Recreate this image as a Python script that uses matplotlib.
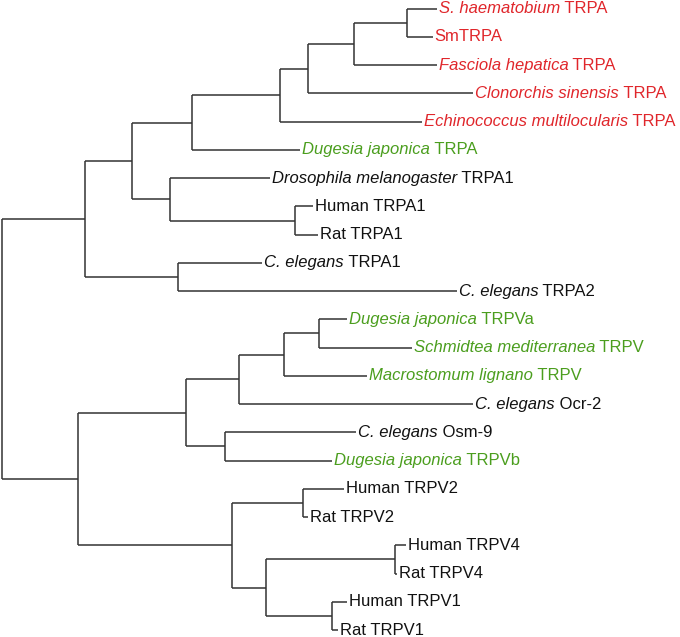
import matplotlib
matplotlib.use("Agg")
import matplotlib.pyplot as plt

# ---------------- data ----------------
leaf_italic = ["S. haematobium", "", "Fasciola hepatica", "Clonorchis sinensis",
               "Echinococcus multilocularis", "Dugesia japonica", "Drosophila melanogaster",
               "", "", "C. elegans", "C. elegans", "Dugesia japonica",
               "Schmidtea mediterranea", "Macrostomum lignano", "C. elegans", "C. elegans",
               "Dugesia japonica", "", "", "", "", "", ""]
leaf_regular = ["TRPA", "SmTRPA", "TRPA", "TRPA", "TRPA", "TRPA", "TRPA1",
                "Human TRPA1", "Rat TRPA1", "TRPA1", "TRPA2", "TRPVa", "TRPV", "TRPV",
                "Ocr-2", "Osm-9", "TRPVb", "Human TRPV2", "Rat TRPV2", "Human TRPV4",
                "Rat TRPV4", "Human TRPV1", "Rat TRPV1"]
leaf_group = (["trematode/cestode"] * 5 + ["flatworm"] + ["other"] * 5 +
              ["flatworm"] * 3 + ["other"] * 2 + ["flatworm"] + ["other"] * 6)
leaf_depth = [436.7, 432.7, 436.7, 473.0, 421.7, 300.0, 270.0, 313.3, 318.3, 262.0,
              456.7, 346.7, 411.7, 366.7, 473.3, 356.0, 331.7, 344.0, 308.0, 406.0,
              397.0, 346.7, 338.3]

node_names = ["root", "A", "B", "C", "D", "E", "F", "G", "H", "I", "J",
              "K", "L", "M", "N", "O", "P", "Q", "R", "S", "T", "U"]
node_depth = [2.3, 84.5, 132.0, 192.0, 279.7, 307.7, 354.0, 406.7, 170.0, 295.0, 178.0,
              78.0, 186.0, 239.0, 284.3, 319.0, 225.0, 232.0, 302.7, 266.0, 395.0, 331.7]
node_children = [("A", "K"), ("B", "J"), ("C", "H"), ("D", 5), ("E", 4), ("F", 3),
                 ("G", 2), (0, 1), (6, "I"), (7, 8), (9, 10), ("L", "Q"), ("M", "P"),
                 ("N", 14), ("O", 13), (11, 12), (15, 16), ("R", "S"), (17, 18),
                 ("T", "U"), (19, 20), (21, 22)]

group_colors = {"trematode/cestode": "#e0262b", "flatworm": "#4b9e1e", "other": "#111111"}

# ---------------- figure ----------------
W, H, DPI = 680, 637, 100
fig = plt.figure(figsize=(W / DPI, H / DPI), dpi=DPI)
ax = fig.add_axes([0, 0, 1, 1])
ax.set_axis_off()
n = len(leaf_regular)
top_px, bot_px = 8.7, 630.0
per = (bot_px - top_px) / (n - 1)
ax.set_xlim(0, W)
ax.set_ylim(n - 1 + (H - bot_px) / per, -top_px / per)

line_kw = dict(color="#333333", lw=1.1, solid_capstyle="butt")
node_index = {nm: i for i, nm in enumerate(node_names)}


def layout(ref):
    """Return (x, y) of a node/leaf, drawing its subtree."""
    if isinstance(ref, int):
        return leaf_depth[ref], float(ref)
    i = node_index[ref]
    x = node_depth[i]
    pts = [layout(c) for c in node_children[i]]
    ys = [p[1] for p in pts]
    ax.plot([x, x], [min(ys), max(ys)], **line_kw)
    for cx, cy in pts:
        ax.plot([x, cx], [cy, cy], **line_kw)
    return x, sum(ys) / len(ys)


rx, ry = layout("root")

FS = 12.0
for i in range(n):
    col = group_colors[leaf_group[i]]
    x = leaf_depth[i] + 2.0
    if leaf_italic[i]:
        t = ax.text(x, i, leaf_italic[i], fontsize=FS, fontstyle="italic",
                    family="Liberation Sans", color=col, va="center", ha="left")
        ax.annotate(" " + leaf_regular[i], xy=(1, 0.5), xycoords=t, fontsize=FS,
                    family="Liberation Sans", color=col, va="center", ha="left")
    else:
        ax.text(x, i, leaf_regular[i], fontsize=FS, family="Liberation Sans",
                color=col, va="center", ha="left")

fig.savefig("out.png", dpi=DPI, facecolor="white")
